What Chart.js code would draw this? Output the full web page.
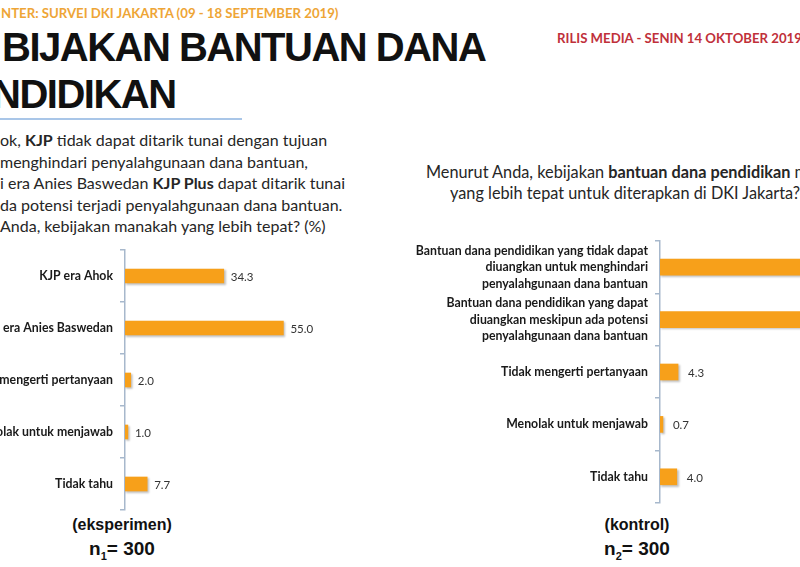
<!DOCTYPE html>
<html>
<head>
<meta charset="utf-8">
<script src="https://cdn.jsdelivr.net/npm/chart.js@4.4.1/dist/chart.umd.min.js"></script>
<style>
  html, body { margin: 0; padding: 0; background: #fff; }
  body { width: 800px; height: 567px; overflow: hidden; position: relative; font-family: Lato, sans-serif; }
  .t { position: absolute; white-space: nowrap; }
  #src { left: 1px; top: 5px; font-weight: 700; font-size: 13.2px; color: #eea536; }
  #rilis { left: 557px; top: 30px; font-weight: 700; font-size: 13.2px; color: #c0303a; }
  .big { font-family: "Liberation Sans", Arial, sans-serif; font-weight: 700; font-size: 40px; letter-spacing: -1.5px; color: #111; }
  #h1 { left: 2px; top: 25px; }
  #h2 { left: -8px; top: 72px; }
  #rule { position: absolute; left: 0; top: 118px; width: 242px; height: 2px; background: #a9c6e8; }
  .para { font-size: 16px; color: #262626; line-height: 21.6px; }
  #q1 { left: 0; top: 129px; }
  .q2 { font-size: 16.3px; color: #262626; }
  #q2a { left: 426px; top: 162px; }
  #q2b { left: 450px; top: 183px; }
  .grp { font-family: "Liberation Sans", Arial, sans-serif; font-weight: 700; color: #111; text-align: center; }
  .grp .a { font-size: 16px; }
  .grp .n { font-size: 19px; margin-top: 4px; }
  #g1 { left: 52px; top: 516px; width: 140px; }
  #g2 { left: 567px; top: 516px; width: 140px; }
  #c1 { position: absolute; left: 0; top: 240px; }
  #c2 { position: absolute; left: 400px; top: 231px; }
</style>
</head>
<body>
<div class="t" id="src">NTER: SURVEI DKI JAKARTA (09 - 18 SEPTEMBER 2019)</div>
<div class="t" id="rilis">RILIS MEDIA - SENIN 14 OKTOBER 2019</div>
<div class="t big" id="h1">BIJAKAN BANTUAN DANA</div>
<div class="t big" id="h2">NDIDIKAN</div>
<div id="rule"></div>
<div class="t para" id="q1">ok, <b>KJP</b> tidak dapat ditarik tunai dengan tujuan<br>menghindari penyalahgunaan dana bantuan,<br>i era Anies Baswedan <b>KJP Plus</b> dapat ditarik tunai<br>da potensi terjadi penyalahgunaan dana bantuan.<br>Anda, kebijakan manakah yang lebih tepat? (%)</div>
<div class="t q2" id="q2a">Menurut Anda, kebijakan <b>bantuan dana pendidikan</b> mana</div>
<div class="t q2" id="q2b">yang lebih tepat untuk diterapkan di DKI Jakarta?</div>
<div class="t grp" id="g1"><div class="a">(eksperimen)</div><div class="n">n<sub style="font-size:11px">1</sub>= 300</div></div>
<div class="t grp" id="g2"><div class="a">(kontrol)</div><div class="n">n<sub style="font-size:11px">2</sub>= 300</div></div>
<div id="c1" style="width:413px;height:280px"><canvas id="chart1"></canvas></div>
<div id="c2" style="width:680px;height:282px"><canvas id="chart2"></canvas></div>
<script>
const eksLabels = ['KJP era Ahok', 'KJP era Anies Baswedan', 'Tidak mengerti pertanyaan', 'Menolak untuk menjawab', 'Tidak tahu'];
const eksValues = [34.3, 55.0, 2.0, 1.0, 7.7];

const konLabels = [
  ['Bantuan dana pendidikan yang tidak dapat', 'diuangkan untuk menghindari', 'penyalahgunaan dana bantuan'],
  ['Bantuan dana pendidikan yang dapat', 'diuangkan meskipun ada potensi', 'penyalahgunaan dana bantuan'],
  'Tidak mengerti pertanyaan', 'Menolak untuk menjawab', 'Tidak tahu'
];
const konValues = [47.3, 43.7, 4.3, 0.7, 4.0];

const orange = '#f7a01a';
const axisColor = '#a7b8cc';

// shadow under the bars + value labels
const barExtras = {
  id: 'barExtras',
  beforeDatasetsDraw(chart) {
    const c = chart.ctx;
    c.save();
    c.shadowColor = 'rgba(0,0,0,0.25)';
    c.shadowBlur = 2;
    c.shadowOffsetX = 1.5;
    c.shadowOffsetY = 1.5;
  },
  afterDatasetsDraw(chart, args, opts) {
    const c = chart.ctx;
    c.restore();
    c.save();
    c.font = '11.5px Lato';
    c.fillStyle = '#333';
    c.textBaseline = 'middle';
    const meta = chart.getDatasetMeta(0);
    meta.data.forEach((bar, i) => {
      const v = chart.data.datasets[0].data[i];
      c.fillText(v.toFixed(1), bar.x + opts.gap, bar.y + 1);
    });
    c.restore();
  }
};

function makeChart(id, labels, values, axisW, thick, gap) {
  return new Chart(document.getElementById(id), {
    type: 'bar',
    data: {
      labels: labels,
      datasets: [{
        data: values,
        backgroundColor: orange,
        barThickness: thick,
        borderWidth: 0
      }]
    },
    options: {
      indexAxis: 'y',
      responsive: true,
      maintainAspectRatio: false,
      animation: false,
      layout: { padding: { top: 10, bottom: 10, left: 0, right: 0 } },
      plugins: {
        legend: { display: false },
        tooltip: { enabled: false },
        barExtras: { gap: gap }
      },
      scales: {
        x: { display: false, min: 0, max: 100 },
        y: {
          afterFit: (axis) => {
            axis.width = axisW;
            axis.paddingTop = 0;
            axis.paddingBottom = 0;
          },
          grid: { display: true, drawOnChartArea: false, drawTicks: true, tickLength: 5, color: axisColor, lineWidth: 1.5 },
          border: { display: true, color: axisColor, width: 1.5 },
          ticks: {
            autoSkip: false,
            padding: 7,
            color: '#1a1a1a',
            font: { family: 'Lato', weight: 'bold', size: 12.3, lineHeight: 1.34 }
          }
        }
      }
    },
    plugins: [barExtras]
  });
}

makeChart('chart1', eksLabels, eksValues, 125, 14, 7);
makeChart('chart2', konLabels, konValues, 260, 16, 10);
</script>
</body>
</html>
